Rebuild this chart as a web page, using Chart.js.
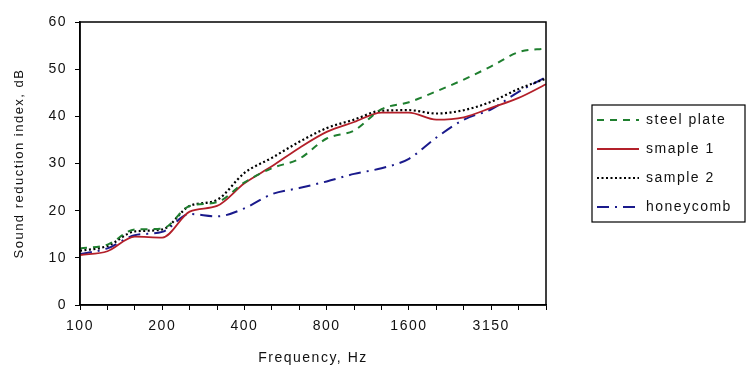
<!DOCTYPE html>
<html><head><meta charset="utf-8">
<script src="https://cdn.jsdelivr.net/npm/chart.js@4.4.1/dist/chart.umd.min.js"></script>
<style>html,body{margin:0;padding:0;background:#fff}#wrap{width:746px;height:371px}</style>
</head><body><div id="wrap"><canvas id="c" width="746" height="371"></canvas></div>
<script>
// ---- data ----
const frequencies = ['100','125','160','200','250','315','400','500','630','800','1000','1250','1600','2000','2500','3150','4000','5000'];
const xTickLabels = ['100','200','400','800','1600','3150'];
const steelPlate = [12.0, 12.8, 16.0, 16.2, 21.0, 21.8, 26.0, 29.0, 31.0, 35.3, 37.0, 41.5, 43.0, 45.3, 47.8, 50.6, 53.6, 54.4];
const smaple1    = [10.6, 11.4, 14.5, 14.3, 19.8, 21.0, 25.8, 29.4, 33.3, 36.7, 38.8, 40.8, 40.8, 39.3, 39.8, 41.8, 43.9, 46.8];
const sample2    = [11.5, 12.5, 15.6, 16.0, 21.0, 22.3, 28.0, 31.2, 34.6, 37.5, 39.3, 41.2, 41.3, 40.6, 41.3, 43.1, 45.8, 48.0];
const honeycomb  = [10.8, 12.0, 14.8, 15.5, 19.3, 18.8, 20.5, 23.5, 24.8, 26.2, 27.8, 29.0, 31.0, 35.5, 39.3, 41.5, 45.2, 48.3];
const yMin = 0, yMax = 60, yStep = 10;

const FONT = "'Liberation Sans', Arial, sans-serif";
Chart.defaults.font.family = FONT;
Chart.defaults.color = '#111';

const spacingPlugin = {
  id: 'spacing',
  beforeLayout(c) { c.ctx.letterSpacing = '1.5px'; },
  beforeDraw(c) { c.ctx.letterSpacing = '1.5px'; }
};
const legendPlace = {
  id: 'legendPlace',
  beforeLayout(c) {
    const lg = c.legend;
    if (lg && !lg.__patched) {
      const f = lg.fit;
      lg.fit = function () { f.call(this); this.width = 200; };
      lg.__patched = true;
    }
  },
  afterLayout(c) {
    const lg = c.legend;
    lg.left += 36; lg.right += 36;
  }
};
const framePlugin = {
  id: 'frame',
  afterDraw(c) {
    const ctx = c.ctx, a = c.chartArea;
    ctx.save();
    ctx.strokeStyle = '#000';
    ctx.lineWidth = 1.5;
    ctx.strokeRect(a.left, a.top, a.right - a.left, a.bottom - a.top);
    const hb = c.legend.legendHitBoxes;
    if (hb && hb.length) {
      let l = Infinity, t = Infinity, r = -Infinity, b = -Infinity;
      hb.forEach(h => { l = Math.min(l, h.left); t = Math.min(t, h.top); r = Math.max(r, h.left + h.width); b = Math.max(b, h.top + h.height); });
      ctx.lineWidth = 1.2;
      ctx.strokeRect(l - 5, t - 8, 746 - (l - 5) - 1, (b - t) + 16);
    }
    ctx.restore();
  }
};

new Chart(document.getElementById('c'), {
  type: 'line',
  data: {
    labels: frequencies,
    datasets: [
      { label: 'steel plate', data: steelPlate, borderColor: '#1f7f2f', borderWidth: 2, borderDash: [7, 6] },
      { label: 'smaple 1', data: smaple1, borderColor: '#b3202a', borderWidth: 1.8 },
      { label: 'sample 2', data: sample2, borderColor: '#000000', borderWidth: 2.2, borderDash: [2, 2.5] },
      { label: 'honeycomb', data: honeycomb, borderColor: '#1a1a8c', borderWidth: 2, borderDash: [12, 6, 2, 6] }
    ]
  },
  options: {
    responsive: false,
    devicePixelRatio: 1,
    animation: false,
    layout: { padding: { top: 22, left: 0, right: 0, bottom: 0 } },
    elements: {
      point: { radius: 0 },
      line: { cubicInterpolationMode: 'monotone', borderCapStyle: 'butt', fill: false }
    },
    plugins: {
      tooltip: { enabled: false },
      legend: {
        position: 'right',
        fullSize: false,
        labels: {
          usePointStyle: true, pointStyle: 'line', pointStyleWidth: 42,
          font: { size: 14, family: FONT }, color: '#111', padding: 15,
          generateLabels(chart) {
            const items = Chart.defaults.plugins.legend.labels.generateLabels(chart);
            items.forEach(it => {
              const ds = chart.data.datasets[it.datasetIndex];
              it.lineDash = ds.borderDash || [];
              it.lineWidth = ds.borderWidth;
              it.strokeStyle = ds.borderColor;
              it.fillStyle = ds.borderColor;
            });
            return items;
          }
        }
      }
    },
    scales: {
      x: {
        type: 'category',
        offset: false,
        afterFit(s) { s.height = 66; },
        grid: { display: true, drawOnChartArea: false, drawTicks: true, tickLength: 5, color: '#000', lineWidth: 1 },
        border: { display: true, color: '#000', width: 1.5 },
        ticks: {
          autoSkip: false, maxRotation: 0, minRotation: 0, padding: 8,
          font: { size: 14, family: FONT }, color: '#111',
          callback(v, i) { const f = frequencies[i]; return xTickLabels.includes(f) ? f : ''; }
        },
        title: { display: true, text: 'Frequency, Hz', font: { size: 14, family: FONT }, color: '#111', padding: { top: 4, bottom: 4 } }
      },
      y: {
        min: yMin, max: yMax,
        afterFit(s) { s.width = 80; },
        grid: { display: true, drawOnChartArea: false, drawTicks: true, tickLength: 5, color: '#000', lineWidth: 1 },
        border: { display: true, color: '#000', width: 1.5 },
        ticks: { stepSize: yStep, padding: 8, font: { size: 14, family: FONT }, color: '#111' },
        title: { display: true, text: 'Sound reduction index, dB', font: { size: 13, family: FONT }, color: '#111', padding: { top: 12, bottom: 4 } }
      }
    }
  },
  plugins: [spacingPlugin, legendPlace, framePlugin]
});
</script>
</body></html>
